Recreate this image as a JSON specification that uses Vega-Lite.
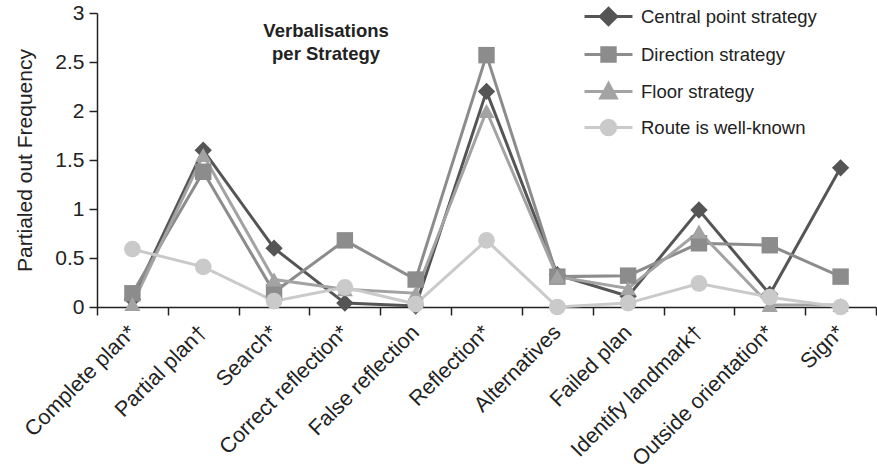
{
  "$schema": "https://vega.github.io/schema/vega-lite/v6.json",
  "width": 877,
  "height": 472,
  "autosize": {"type": "fit", "contains": "padding"},
  "padding": {"left": 14, "top": 2, "right": 0, "bottom": 2},
  "background": "white",
  "config": {
    "font": "Liberation Sans",
    "view": {"stroke": null},
    "axis": {"grid": false, "domainColor": "#222", "tickColor": "#222", "labelColor": "#222", "titleColor": "#222", "domainWidth": 1.5, "tickWidth": 1.5, "labelFont": "Liberation Sans", "titleFont": "Liberation Sans"}
  },
  "data": {
    "values": [
      {"cat": "Complete plan*", "s": "Central point strategy", "v": 0.08},
      {"cat": "Partial plan†", "s": "Central point strategy", "v": 1.6},
      {"cat": "Search*", "s": "Central point strategy", "v": 0.6},
      {"cat": "Correct reflection*", "s": "Central point strategy", "v": 0.04},
      {"cat": "False reflection", "s": "Central point strategy", "v": 0.01},
      {"cat": "Reflection*", "s": "Central point strategy", "v": 2.2},
      {"cat": "Alternatives", "s": "Central point strategy", "v": 0.33},
      {"cat": "Failed plan", "s": "Central point strategy", "v": 0.11},
      {"cat": "Identify landmark†", "s": "Central point strategy", "v": 0.99},
      {"cat": "Outside orientation*", "s": "Central point strategy", "v": 0.13},
      {"cat": "Sign*", "s": "Central point strategy", "v": 1.42},
      {"cat": "Complete plan*", "s": "Direction strategy", "v": 0.14},
      {"cat": "Partial plan†", "s": "Direction strategy", "v": 1.38},
      {"cat": "Search*", "s": "Direction strategy", "v": 0.15},
      {"cat": "Correct reflection*", "s": "Direction strategy", "v": 0.68},
      {"cat": "False reflection", "s": "Direction strategy", "v": 0.28},
      {"cat": "Reflection*", "s": "Direction strategy", "v": 2.57},
      {"cat": "Alternatives", "s": "Direction strategy", "v": 0.31},
      {"cat": "Failed plan", "s": "Direction strategy", "v": 0.32},
      {"cat": "Identify landmark†", "s": "Direction strategy", "v": 0.65},
      {"cat": "Outside orientation*", "s": "Direction strategy", "v": 0.63},
      {"cat": "Sign*", "s": "Direction strategy", "v": 0.31},
      {"cat": "Complete plan*", "s": "Floor strategy", "v": 0.03},
      {"cat": "Partial plan†", "s": "Floor strategy", "v": 1.55},
      {"cat": "Search*", "s": "Floor strategy", "v": 0.28},
      {"cat": "Correct reflection*", "s": "Floor strategy", "v": 0.18},
      {"cat": "False reflection", "s": "Floor strategy", "v": 0.14},
      {"cat": "Reflection*", "s": "Floor strategy", "v": 2.0},
      {"cat": "Alternatives", "s": "Floor strategy", "v": 0.31},
      {"cat": "Failed plan", "s": "Floor strategy", "v": 0.19},
      {"cat": "Identify landmark†", "s": "Floor strategy", "v": 0.77},
      {"cat": "Outside orientation*", "s": "Floor strategy", "v": 0.02},
      {"cat": "Sign*", "s": "Floor strategy", "v": 0.02},
      {"cat": "Complete plan*", "s": "Route is well-known", "v": 0.59},
      {"cat": "Partial plan†", "s": "Route is well-known", "v": 0.41},
      {"cat": "Search*", "s": "Route is well-known", "v": 0.06},
      {"cat": "Correct reflection*", "s": "Route is well-known", "v": 0.2},
      {"cat": "False reflection", "s": "Route is well-known", "v": 0.03},
      {"cat": "Reflection*", "s": "Route is well-known", "v": 0.68},
      {"cat": "Alternatives", "s": "Route is well-known", "v": 0.0},
      {"cat": "Failed plan", "s": "Route is well-known", "v": 0.04},
      {"cat": "Identify landmark†", "s": "Route is well-known", "v": 0.24},
      {"cat": "Outside orientation*", "s": "Route is well-known", "v": 0.1},
      {"cat": "Sign*", "s": "Route is well-known", "v": 0.0}
    ]
  },
  "encoding": {
    "x": {
      "field": "cat", "type": "nominal", "sort": null,
      "scale": {"type": "band", "paddingInner": 0, "paddingOuter": 0},
      "axis": {"title": null, "labelAngle": -45, "labelAlign": "right", "labelBaseline": "middle", "labelFontSize": 21.5, "labelPadding": 14, "tickBand": "extent", "tickSize": 8, "labelOverlap": false, "labelLimit": 0}
    },
    "y": {
      "field": "v", "type": "quantitative",
      "scale": {"domain": [0, 3], "nice": false},
      "axis": {"title": "Partialed out Frequency", "format": "~g", "titleFontSize": 21, "titleFontWeight": "normal", "titlePadding": 19, "labelFontSize": 21, "values": [0, 0.5, 1, 1.5, 2, 2.5, 3], "tickSize": 8, "labelPadding": 5}
    },
    "color": {
      "field": "s", "type": "nominal",
      "scale": {"domain": ["Central point strategy", "Direction strategy", "Floor strategy", "Route is well-known"], "range": ["#555555", "#8c8c8c", "#a3a3a3", "#cacaca"]}
    }
  },
  "layer": [
    {
      "mark": {"type": "line", "strokeWidth": 3},
      "encoding": {
        "color": {
          "field": "s", "type": "nominal",
          "legend": {
            "title": null, "orient": "none", "legendX": 488, "legendY": -20,
            "labelFontSize": 18.5, "labelColor": "#222", "labelOffset": 9, "labelLimit": 0,
            "symbolSize": 1936, "rowPadding": -2,
            "encode": {
              "symbols": {
                "update": {
                  "shape": {"signal": "datum.value === 'Central point strategy' ? 'M-1.09,0H1.09M0,-0.37L0.37,0L0,0.37L-0.37,0Z' : datum.value === 'Direction strategy' ? 'M-1.09,0H1.09M-0.305,-0.305H0.305V0.305H-0.305Z' : datum.value === 'Floor strategy' ? 'M-1.09,0H1.09M0,-0.36L0.35,0.29L-0.35,0.29Z' : 'M-1.09,0H1.09M-0.327,0A0.327,0.327,0,1,1,0.327,0A0.327,0.327,0,1,1,-0.327,0Z'"},
                  "fill": {"signal": "scale('color', datum.value)"},
                  "stroke": {"signal": "scale('color', datum.value)"},
                  "strokeWidth": {"value": 3},
                  "opacity": {"value": 1}
                }
              }
            }
          }
        }
      }
    },
    {
      "transform": [{"filter": "datum.s === 'Central point strategy'"}],
      "mark": {"type": "point", "shape": "diamond", "filled": true, "opacity": 1, "size": 300},
      "encoding": {"color": {"field": "s", "type": "nominal", "legend": null}}
    },
    {
      "transform": [{"filter": "datum.s === 'Direction strategy'"}],
      "mark": {"type": "point", "shape": "square", "filled": true, "opacity": 1, "size": 270},
      "encoding": {"color": {"field": "s", "type": "nominal", "legend": null}}
    },
    {
      "transform": [{"filter": "datum.s === 'Floor strategy'"}],
      "mark": {"type": "point", "shape": "triangle-up", "filled": true, "opacity": 1, "size": 260},
      "encoding": {"color": {"field": "s", "type": "nominal", "legend": null}}
    },
    {
      "transform": [{"filter": "datum.s === 'Route is well-known'"}],
      "mark": {"type": "point", "shape": "circle", "filled": true, "opacity": 1, "size": 280},
      "encoding": {"color": {"field": "s", "type": "nominal", "legend": null}}
    },
    {
      "data": {"values": [{"cat": "Search*", "t": "Verbalisations\nper Strategy", "v": 2.91}]},
      "mark": {"type": "text", "fontWeight": "bold", "fontSize": 18.5, "lineBreak": "\n", "lineHeight": 23, "baseline": "top", "align": "center", "dx": 52},
      "encoding": {
        "x": {"field": "cat", "type": "nominal"},
        "y": {"field": "v", "type": "quantitative"},
        "text": {"field": "t"},
        "color": {"value": "#222"}
      }
    }
  ]
}
